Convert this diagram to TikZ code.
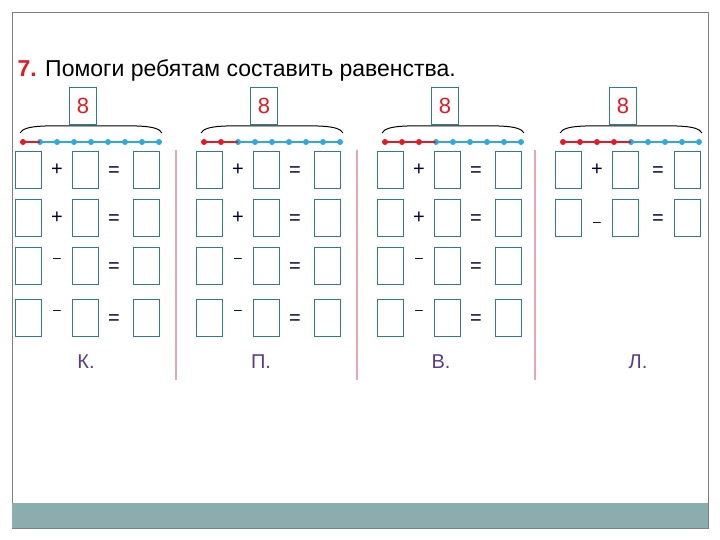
\documentclass[tikz,border=0pt]{standalone}
\usepackage{fontspec}
\setmainfont{Liberation Sans}
\usetikzlibrary{decorations.pathreplacing}
\definecolor{boxc}{HTML}{2E7C8C}
\definecolor{dotb}{HTML}{2FA8DC}
\definecolor{dotr}{HTML}{E01B24}
\definecolor{barc}{HTML}{8AADAD}
\definecolor{lab}{HTML}{5A3D8A}
\definecolor{divc}{HTML}{E6A7B5}
\begin{document}
\begin{tikzpicture}[x=1pt,y=-1pt,
  bx/.style={draw=boxc,line width=0.8pt,minimum width=26pt,minimum height=37pt,inner sep=0pt},
  op/.style={font=\fontsize{20}{20}\selectfont,text=black!80!blue},
  lbl/.style={font=\fontsize{20}{20}\selectfont,text=lab},
  eight/.style={draw=boxc,line width=0.8pt,minimum width=27pt,minimum height=37pt,inner sep=0pt,font=\fontsize{22}{22}\selectfont,text=dotr}]
\useasboundingbox (0,0) rectangle (720,540);
\draw[gray,line width=0.8pt] (12,12) rectangle (708,528);
\fill[barc] (12,503) rectangle (708,528);
\node[anchor=west,font=\fontsize{23}{23}\selectfont] (title) at (14,70) {\textcolor{dotr}{\textbf{7.}} Помоги ребятам составить равенства.};
\foreach \g/\dx/\nr in {1/0/1,2/181/2,3/362/3,4/540/4}{
  \node[eight] (e\g) at (83+\dx,106) {8};
  \draw[line width=1pt] (20+\dx,133) .. controls (25+\dx,124) and (50+\dx,126) .. (91+\dx,126) .. controls (132+\dx,126) and (157+\dx,124) .. (162+\dx,133);
  \foreach \i in {0,...,8}{
    \pgfmathsetmacro\xx{23+\dx+\i*17}
    \ifnum\i<\nr \def\cc{dotr}\else\def\cc{dotb}\fi
    \coordinate (d\g-\i) at (\xx,142);
    \fill[\cc] (d\g-\i) circle (3pt);
  }
  \foreach \i [evaluate=\i as \j using int(\i-1)] in {1,...,8}{
    \ifnum\i<\nr \def\cc{dotr}\else\ifnum\i=\nr \def\cc{dotr}\else\def\cc{dotb}\fi\fi
    \ifnum\i>\nr \def\cc{dotb}\fi
    \draw[\cc,line width=1.2pt] (d\g-\j) -- (d\g-\i);
  }
}
% rows
\foreach \g/\dx/\ops in {1/0/{+,+,-,-},2/181/{+,+,-,-},3/362/{+,+,-,-}}{
  \foreach \o [count=\r] in \ops {
    \pgfmathsetmacro\yy{{0,170,218,266,318}[\r]}
    \node[bx] (a\g\r) at (28+\dx,\yy) {};
    \node[bx] (b\g\r) at (85+\dx,\yy) {};
    \node[bx] (c\g\r) at (146+\dx,\yy) {};
    \ifnum\r<3
      \node[op] (o\g\r) at (57+\dx,\yy) {+};
    \else
      \node[op,font=\fontsize{14}{14}\selectfont] (o\g\r) at (57+\dx,\yy-6) {–};
    \fi
    \node[op] (q\g\r) at (114+\dx,\yy+2) {=};
  }
}
\node[bx] (a41) at (568,170) {};
\node[bx] (b41) at (625,170) {};
\node[bx] (c41) at (687,170) {};
\node[op] (o41) at (597,170) {+};
\node[op] (q41) at (658,172) {=};
\node[bx] (a42) at (568,218) {};
\node[bx] (b42) at (625,218) {};
\node[bx] (c42) at (687,218) {};
\node[op,font=\fontsize{14}{14}\selectfont] (o42) at (597,224) {–};
\node[op] (q42) at (658,220) {=};
\foreach \x in {176,357,535}{\draw[divc,line width=1.2pt] (\x,150) -- (\x,380);}
\node[lbl] (k) at (86,362) {К.};
\node[lbl] (p) at (261,362) {П.};
\node[lbl] (v) at (441,362) {В.};
\node[lbl] (l) at (638,362) {Л.};
\end{tikzpicture}
\end{document}
